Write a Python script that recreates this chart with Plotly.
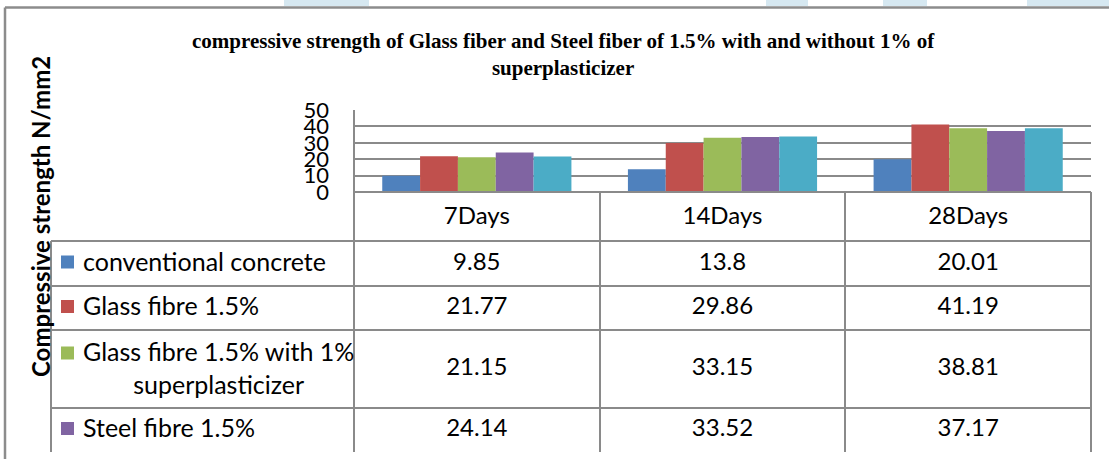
import plotly.graph_objects as go

# ---------------- data ----------------
categories = ["7Days", "14Days", "28Days"]
series_names = [
    "conventional concrete",
    "Glass fibre 1.5%",
    "Glass fibre 1.5% with 1%<br>superplasticizer",
    "Steel fibre 1.5%",
    "Steel fibre 1.5% with 1% superplasticizer",
]
conventional = [9.85, 13.8, 20.01]
glass_fibre = [21.77, 29.86, 41.19]
glass_fibre_sp = [21.15, 33.15, 38.81]
steel_fibre = [24.14, 33.52, 37.17]
steel_fibre_sp = [21.7, 33.9, 38.8]   # 5th series, row hidden below the crop
y_ticks = [0, 10, 20, 30, 40, 50]
chart_title = ("compressive strength of Glass fiber and Steel fiber of 1.5% with and without 1% of"
               "<br>superplasticizer")
y_title = "Compressive strength N/mm2"

series_values = [conventional, glass_fibre, glass_fibre_sp, steel_fibre, steel_fibre_sp]
colors = ["#4F81BD", "#C0504D", "#9BBB59", "#8064A2", "#4BACC6"]
visible_rows = 4

# ---------------- geometry (pixels) ----------------
W, H = 1109, 459
def px(x):
    return x / W
def py(y):
    return 1 - y / H

plot_l, plot_r = 354, 1091
plot_t, plot_b = 110, 192
leg_l = 51
col_edges = [354, 600, 845, 1091]
header_t, header_b = 192, 241
row_edges = [241, 286, 330, 408, 452]
table_bottom = 452
line_col = "#8a8a8a"
FONT = "Lato"
FS = 24

fig = go.Figure()

for name, vals, c in zip(series_names, series_values, colors):
    fig.add_trace(go.Bar(x=categories, y=vals, name=name, marker=dict(color=c, line=dict(width=0)),
                         xaxis="x", yaxis="y", hoverinfo="skip"))

# header text
fig.add_trace(go.Scatter(x=categories, y=[(header_t + header_b) / 2 + 1] * len(categories),
                         mode="text", text=categories, xaxis="x", yaxis="y2",
                         textfont=dict(family=FONT, size=FS, color="black"),
                         cliponaxis=False, hoverinfo="skip", showlegend=False))
# value cells
for i in range(visible_rows):
    yc = (row_edges[i] + row_edges[i + 1]) / 2
    fig.add_trace(go.Scatter(x=categories, y=[yc] * len(categories), mode="text",
                             text=[f"{v}" for v in series_values[i]], xaxis="x", yaxis="y2",
                             textfont=dict(family=FONT, size=FS, color="black"),
                             cliponaxis=False, hoverinfo="skip", showlegend=False))

shapes = []
def hline(x0, x1, y, w=2, c=line_col):
    shapes.append(dict(type="line", xref="paper", yref="paper", x0=px(x0), x1=px(x1),
                       y0=py(y), y1=py(y), line=dict(color=c, width=w), layer="above"))
def vline(x, y0, y1, w=2, c=line_col):
    shapes.append(dict(type="line", xref="paper", yref="paper", x0=px(x), x1=px(x),
                       y0=py(y0), y1=py(y1), line=dict(color=c, width=w), layer="above"))

# top strip highlights (page text above the chart)
for a, b in [(284, 369), (766, 808), (883, 927), (1027, 1109)]:
    shapes.append(dict(type="rect", xref="paper", yref="paper", x0=px(a), x1=px(b),
                       y0=py(6), y1=py(0), fillcolor="#d6e8f1", line=dict(width=0), layer="below"))

# outer frame
hline(5, 1112, 7.5, w=2.5, c="#8c8c8c")
vline(5, 7.5, 459, w=2.5, c="#8c8c8c")

# plot left axis line extending into table
vline(plot_l, plot_t, table_bottom)
# table vertical lines
for x in col_edges[1:]:
    vline(x, header_t, table_bottom)
vline(leg_l, header_b, table_bottom)
# table horizontal lines
hline(plot_l, plot_r, header_t)
for y in row_edges[:-1]:
    hline(leg_l, plot_r, y)

# legend squares
annotations = []
for i in range(visible_rows):
    yc = (row_edges[i] + row_edges[i + 1]) / 2
    multi = "<br>" in series_names[i]
    sq_c = yc - 1.5 if not multi else yc - 16
    shapes.append(dict(type="rect", xref="paper", yref="paper", x0=px(61), x1=px(74),
                       y0=py(sq_c + 6.5), y1=py(sq_c - 6.5), fillcolor=colors[i],
                       line=dict(width=0)))
    annotations.append(dict(text=series_names[i], xref="paper", yref="paper", x=px(81),
                            y=py(yc - (3 if not multi else 2)),
                            xanchor="left", yanchor="middle", align="center", showarrow=False,
                            font=dict(family=FONT, size=FS + 1, color="black")))

# title
annotations.append(dict(text=f"<b>{chart_title}</b>", xref="paper", yref="paper", x=px(563), y=py(54),
                        xanchor="center", yanchor="middle", align="center", showarrow=False,
                        font=dict(family="Liberation Serif", size=21, color="black")))
# y-axis title
annotations.append(dict(text=f"<b>{y_title}</b>", xref="paper", yref="paper", x=px(40), y=py(217),
                        xanchor="center", yanchor="middle", textangle=-90, showarrow=False,
                        font=dict(family=FONT, size=24, color="black")))

fig.update_layout(
    template="none",
    width=W, height=H, autosize=False,
    margin=dict(l=0, r=0, t=0, b=0, pad=0, autoexpand=False),
    paper_bgcolor="white", plot_bgcolor="rgba(0,0,0,0)",
    barmode="group", bargap=0.23, bargroupgap=0,
    showlegend=False,
    xaxis=dict(domain=[px(plot_l), px(plot_r)], anchor="y", showticklabels=False, ticks="",
               showgrid=False, zeroline=False, showline=False, automargin=False),
    yaxis=dict(domain=[py(plot_b), py(plot_t)], range=[0, 50], tickmode="array", tickvals=y_ticks,
               showgrid=True, gridcolor=line_col, gridwidth=2, zeroline=False, showline=False,
               ticks="", ticklabelstandoff=24, automargin=False,
               tickfont=dict(family=FONT, size=22, color="black")),
    yaxis2=dict(domain=[0, 1], range=[H, 0], anchor="x", visible=False, showgrid=False,
                automargin=False),
    shapes=shapes, annotations=annotations,
)

fig.write_html("out.html", config={"displayModeBar": False},
               post_script="document.body.style.margin='0';document.body.style.overflow='hidden';")
